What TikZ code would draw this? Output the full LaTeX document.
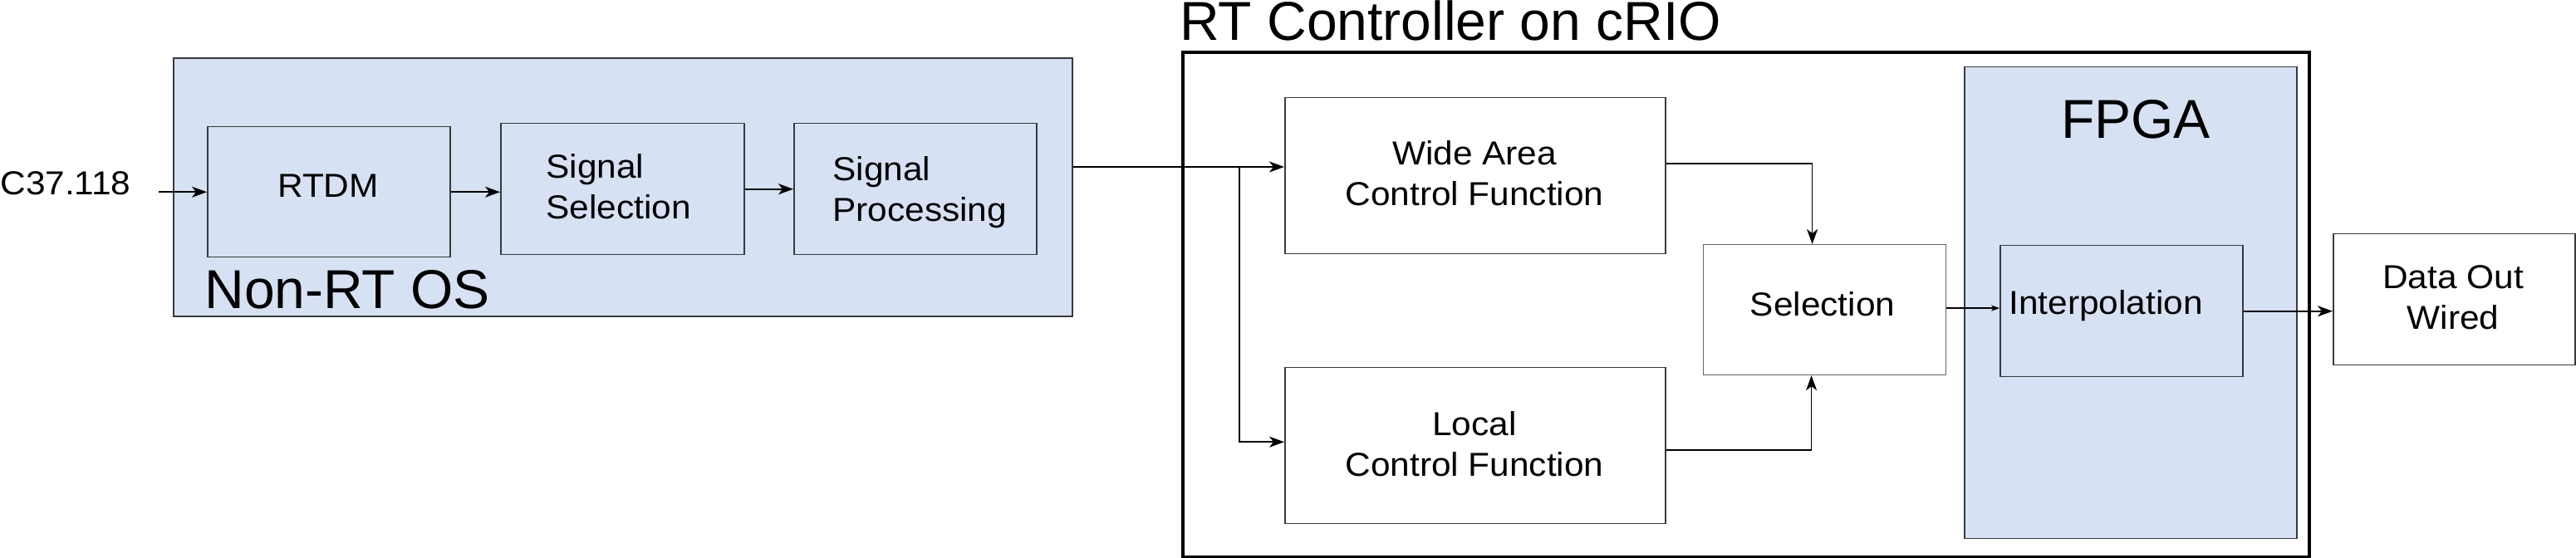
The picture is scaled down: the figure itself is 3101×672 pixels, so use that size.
\documentclass[tikz,border=0pt]{standalone}
\usepackage{fontspec}
\setmainfont{Liberation Sans}
\newfontfamily\smf{Liberation Sans}[FakeStretch=1.06]
\usetikzlibrary{arrows.meta}
\definecolor{bluefill}{RGB}{214,226,243}
\definecolor{edgegray}{RGB}{54,57,61}
\begin{document}
\begin{tikzpicture}[x=0.5pt,y=-0.5pt,
  blk/.style={draw=edgegray, line width=0.75pt, inner sep=0pt, anchor=north west},
  bluebox/.style={blk, fill=bluefill},
  whitebox/.style={blk, fill=white},
  txt/.style={inner sep=0pt, font={\smf\fontsize{20}{24.5}\selectfont}},
  bigtxt/.style={inner sep=0pt, font={\fontsize{33}{38}\selectfont}},
  arr/.style={-{Stealth[length=9pt,width=6.5pt,inset=2.5pt]}, line width=0.8pt},
  smallarr/.style={-{Stealth[length=5pt,width=3.6pt,inset=1.4pt]}, line width=0.6pt}]
\useasboundingbox (0,0) rectangle (3101,672);

% Non-RT OS container
\node[bluebox, line width=1pt, minimum width=541pt, minimum height=155.5pt] (nonrt) at (208,69) {};
\node[bigtxt, anchor=base west] (nonrtlbl) at (246,372) {Non-RT OS};

\node[bluebox, minimum width=146pt, minimum height=78.5pt] (rtdm) at (249,152) {};
\node[bluebox, minimum width=146.5pt, minimum height=79pt] (sigsel) at (602,148) {};
\node[bluebox, minimum width=146pt, minimum height=79pt] (sigproc) at (955,148) {};

\node[txt, anchor=base] (rtdmlbl) at (395,238) {RTDM};
\node[txt, anchor=north west, align=left] (sigsellbl) at (657,185) {Signal\\Selection};
\node[txt, anchor=north west, align=left] (sigproclbl) at (1002,188) {Signal\\Processing};

\node[txt, anchor=west] (c37) at (0,221) {C37.118};

% RT controller container
\node[blk, draw=black, line width=1.8pt, minimum width=678pt, minimum height=304pt] (rt) at (1422,61) {};
\node[bigtxt, anchor=base west] (rtlbl) at (1420,49) {RT Controller on cRIO};

\node[whitebox, minimum width=229pt, minimum height=94pt] (wa) at (1546,117) {};
\node[whitebox, minimum width=229pt, minimum height=94pt] (loc) at (1546,442) {};
\node[whitebox, draw=black!60, line width=0.6pt, minimum width=146pt, minimum height=78.5pt] (sel) at (2050,294) {};

\node[bluebox, minimum width=200pt, minimum height=284pt] (fpga) at (2364,80) {};
\node[bigtxt, anchor=base] (fpgalbl) at (2571,167) {FPGA};
\node[bluebox, minimum width=146pt, minimum height=79pt] (interp) at (2407,295) {};

\node[whitebox, minimum width=145.5pt, minimum height=79pt] (dout) at (2808,281) {};

\node[txt, anchor=north, align=center] (walbl) at (1775,169) {Wide Area\\Control Function};
\node[txt, anchor=north, align=center] (loclbl) at (1775,495) {Local\\Control Function};
\node[txt, anchor=base] (sellbl) at (2194,381) {Selection};
\node[txt, anchor=base west] (interplbl) at (2418,379) {Interpolation};
\node[txt, anchor=north, align=center] (doutlbl) at (2953,319) {Data Out\\Wired};

% connectors
\draw[arr] ([xshift=16.5pt]c37.east |- rtdm.west) -- (rtdm.west);
\draw[arr] (rtdm.east) -- (rtdm.east -| sigsel.west);
\draw[arr] (sigsel.east) -- (sigsel.east -| sigproc.west);

\coordinate (bus) at (1492,201);
\draw[arr] (nonrt.east |- bus) -- (bus) -- (wa.west |- bus);
\draw[arr] (bus) |- ([yshift=2.25pt]loc.west);
\draw[arr] ([yshift=7.5pt]wa.east) -| ([xshift=-7.5pt]sel.north);
\draw[arr] ([yshift=-2.5pt]loc.east) -| ([xshift=-8pt]sel.south);
\draw[smallarr] ([yshift=1pt]sel.east) -- ([yshift=1pt]sel.east -| interp.west);
\draw[arr] (interp.east) -- (interp.east -| dout.west);
\end{tikzpicture}
\end{document}
